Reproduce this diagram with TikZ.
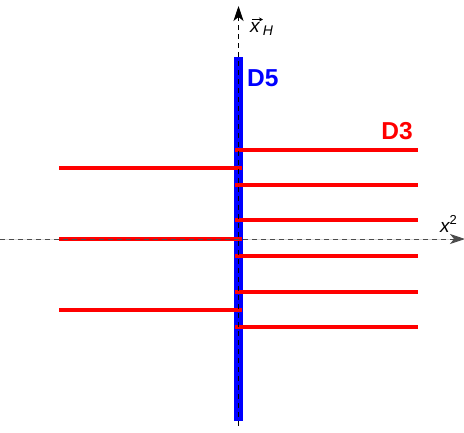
\documentclass[tikz,border=0pt]{standalone}
\usepackage{fontspec}
\setmainfont{Liberation Sans}
\usetikzlibrary{arrows.meta}
\begin{document}
\begin{tikzpicture}[x=1pt,y=-1pt,
  axis/.style={line width=0.9pt, dash pattern=on 5pt off 4pt, -{Stealth[length=15pt,width=10pt,inset=4pt]}},
  dthree/.style={draw=red, line width=4pt},
  dfive/.style={draw=blue, line width=9pt},
  lbl/.style={inner sep=0pt, font=\fontsize{24.5}{28}\selectfont\bfseries},
  axlbl/.style={inner sep=0pt, font=\fontsize{19}{22}\selectfont\itshape}]
\useasboundingbox (0,0) rectangle (464,432);
% D5 brane
\coordinate (d5t) at (238.5,57);
\coordinate (d5b) at (238.5,421);
\draw[dfive] (d5t) -- (d5b);
% D3 branes, right
\foreach \y [count=\i] in {150,185,220,256,292,327}{
  \coordinate (r\i a) at (235,\y);
  \coordinate (r\i b) at (418,\y);
  \draw[dthree] (r\i a) -- (r\i b);
}
% D3 branes, left
\foreach \y [count=\i] in {168,239,310}{
  \coordinate (l\i a) at (59,\y);
  \coordinate (l\i b) at (242,\y);
  \draw[dthree] (l\i a) -- (l\i b);
}
% axes
\coordinate (ht) at (0,239);
\coordinate (hh) at (465,239);
\coordinate (vt) at (238.5,426);
\coordinate (vh) at (238.5,6);
\draw[axis, draw=black!70, fill=black] (ht) -- (hh);
\draw[axis] (vt) -- (vh);
% labels
\node[lbl, text=blue, anchor=west] (D5) at (247,78) {D5};
\node[lbl, text=red] (D3) at (397,131) {D3};
\node[axlbl, anchor=base west] (x2) at (440,232) {x\raisebox{8pt}{\fontsize{13}{13}\selectfont\upshape 2}};
\node[axlbl, anchor=base west] (xH) at (250,32) {x\,\raisebox{-3pt}{\fontsize{14}{14}\selectfont H}};
\coordinate (va) at (252,19.5);
\coordinate (vb) at (263,19.5);
\draw[line width=0.7pt, -{Stealth[length=4pt,width=4pt]}] (va) -- (vb);
\end{tikzpicture}
\end{document}
